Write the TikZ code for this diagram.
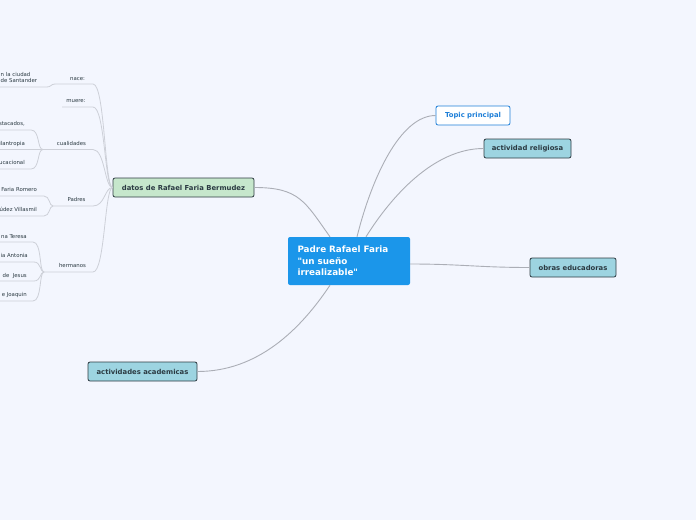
\documentclass[tikz,border=0pt]{standalone}
\usepackage{fontspec}
\setsansfont{DejaVu Sans}[Ligatures=TeXOff]
\usepackage{tikz}
\usetikzlibrary{positioning, calc}
\definecolor{cBack}{HTML}{F3F6FE}
\definecolor{cRoot}{HTML}{1B96EA}
\definecolor{cTopic}{HTML}{1E7FD8}
\definecolor{cSub}{HTML}{9DD4E1}
\definecolor{cData}{HTML}{C6E7CC}
\definecolor{cEdge}{HTML}{2E3B42}
\definecolor{cTxt}{HTML}{2B3A42}
\definecolor{cLink}{HTML}{ABAEB6}
\definecolor{cLine}{HTML}{CDD0D8}
\tikzset{
  rootbox/.style={
    rectangle, rounded corners=2pt, fill=cRoot, text=white,
    font=\sffamily\bfseries\fontsize{8.8}{11.4}\selectfont, align=left,
    text width=103pt, inner xsep=9.5pt, minimum height=48pt
  },
  topicbox/.style={
    rectangle, rounded corners=2pt, draw=cTopic, line width=0.8pt, fill=white,
    text=cTopic, font=\sffamily\bfseries\fontsize{6.85}{8}\selectfont,
    minimum height=19pt, inner sep=0pt
  },
  subbox/.style={
    rectangle, rounded corners=2pt, draw=cEdge, line width=0.8pt, fill=#1,
    text=cTxt, font=\sffamily\bfseries\fontsize{6.85}{8}\selectfont,
    minimum height=19pt, inner sep=0pt
  },
  lbl/.style={font=\sffamily\fontsize{5.4}{6.3}\selectfont, text=cTxt, inner sep=0pt},
  link/.style={draw=cLink, line width=0.9pt},
  uline/.style={draw=cLine, line width=0.8pt},
}
\begin{document}
\begin{tikzpicture}[x=1pt, y=-1pt]

  \useasboundingbox[fill=cBack] (0,0) rectangle (696,520);

  \node[rootbox] (root) at (349,261)
    {Padre Rafael Faria\\"un sueño\\irrealizable"};

  \node[topicbox, minimum width=74pt] (topic) at (473,115.5) {Topic principal};
  \node[subbox=cSub, minimum width=87pt] (relig) at (527.5,148.5) {actividad religiosa};
  \node[subbox=cSub, minimum width=86pt] (obras) at (573,267.5) {obras educadoras};
  \node[subbox=cSub, minimum width=109pt] (acad) at (142.5,371.5) {actividades academicas};
  \node[subbox=cData, minimum width=141pt] (datos) at (183.5,187.5) {datos de Rafael Faria Bermudez};

  \draw[link] ([xshift=8pt]root.north) .. controls +(15,-60) and +(-35,0) .. (topic.west);
  \draw[link] ([xshift=17pt]root.north) .. controls +(25,-40) and +(-50,0) .. (relig.west);
  \draw[link] ([yshift=-3pt]root.east) .. controls +(50,0) and +(-50,0) .. (obras.west);
  \draw[link] ([xshift=-19pt]root.north) .. controls +(-25,-35) and +(45,0) .. (datos.east);
  \draw[link] ([xshift=-19pt]root.south) .. controls +(-30,45) and +(60,0) .. (acad.east);

  % datos de Rafael Faria Bermudez
  \node[lbl, anchor=base] (nace) at (77.5,80) {nace:};
  \node[lbl, anchor=base] (muere) at (76,102.5) {muere:};
  \node[lbl, anchor=base] (cual) at (71.5,145.5) {cualidades};
  \node[lbl, anchor=base] (padres) at (76.5,201.5) {Padres};
  \node[lbl, anchor=base] (herm) at (72.5,267.5) {hermanos};

  \coordinate (naceJ) at (55,84);    \coordinate (naceR) at (93,84);
  \coordinate (muereJ) at (62,107);  \coordinate (muereR) at (93,107);
  \coordinate (cualJ) at (43,149.5); \coordinate (cualR) at (93,149.5);
  \coordinate (padJ) at (53,206);    \coordinate (padR) at (93,206);
  \coordinate (hermJ) at (44,272);   \coordinate (hermR) at (93,272);

  \draw[uline] (naceJ) -- (naceR) .. controls +(12,0) and +(-8,0) .. (datos.west);
  \draw[uline] (muereJ) -- (muereR) .. controls +(12,0) and +(-8,0) .. (datos.west);
  \draw[uline] (cualJ) -- (cualR) .. controls +(12,0) and +(-8,0) .. (datos.west);
  \draw[uline] (padJ) -- (padR) .. controls +(12,0) and +(-8,0) .. (datos.west);
  \draw[uline] (hermJ) -- (hermR) .. controls +(12,0) and +(-8,0) .. (datos.west);

  % nace
  \node[lbl, anchor=north west, align=left] (ciudad) at (0.5,71.8) {n la ciudad\\de Santander};
  \coordinate (ciudadL) at (0,87);
  \draw[uline] (ciudadL) -- +(47,0) .. controls +(4,0) and +(-4,0) .. (naceJ);

  % cualidades
  \node[lbl, anchor=base east] (cual1) at (25,125.5) {stacados,};
  \node[lbl, anchor=base east] (cual2) at (25,145.5) {ilantropia};
  \node[lbl, anchor=base east] (cual3) at (25,164.5) {ucacional};
  \coordinate (cual1L) at (0,130);
  \coordinate (cual2L) at (0,149.5);
  \coordinate (cual3L) at (0,169);
  \draw[uline] (cual1L) -- +(31,0) .. controls +(9,0) and +(-6,0) .. (cualJ);
  \draw[uline] (cual2L) -- (cualJ);
  \draw[uline] (cual3L) -- +(31,0) .. controls +(9,0) and +(-6,0) .. (cualJ);

  % Padres
  \node[lbl, anchor=base east] (pad1) at (37,191.5) {Faria Romero};
  \node[lbl, anchor=base east] (pad2) at (37,211.5) {údez Villasmil};
  \coordinate (pad1L) at (0,196);
  \coordinate (pad2L) at (0,216);
  \draw[uline] (pad1L) -- +(44,0) .. controls +(6,0) and +(-4,0) .. (padJ);
  \draw[uline] (pad2L) -- +(44,0) .. controls +(6,0) and +(-4,0) .. (padJ);

  % hermanos
  \node[lbl, anchor=base east] (herm1) at (27,238.5) {na Teresa};
  \node[lbl, anchor=base east] (herm2) at (28,257.5) {ia Antonia};
  \node[lbl, anchor=base east] (herm3) at (27,277.5) {de\ \ Jesus};
  \node[lbl, anchor=base east] (herm4) at (27,296.5) {e Joaquin};
  \coordinate (herm1L) at (0,242);
  \coordinate (herm2L) at (0,262);
  \coordinate (herm3L) at (0,281);
  \coordinate (herm4L) at (0,301);
  \draw[uline] (herm1L) -- +(33,0) .. controls +(9,0) and +(-5,0) .. (hermJ);
  \draw[uline] (herm2L) -- +(34,0) .. controls +(7,0) and +(-4,0) .. (hermJ);
  \draw[uline] (herm3L) -- +(34,0) .. controls +(7,0) and +(-4,0) .. (hermJ);
  \draw[uline] (herm4L) -- +(33,0) .. controls +(9,0) and +(-5,0) .. (hermJ);

\end{tikzpicture}
\end{document}
